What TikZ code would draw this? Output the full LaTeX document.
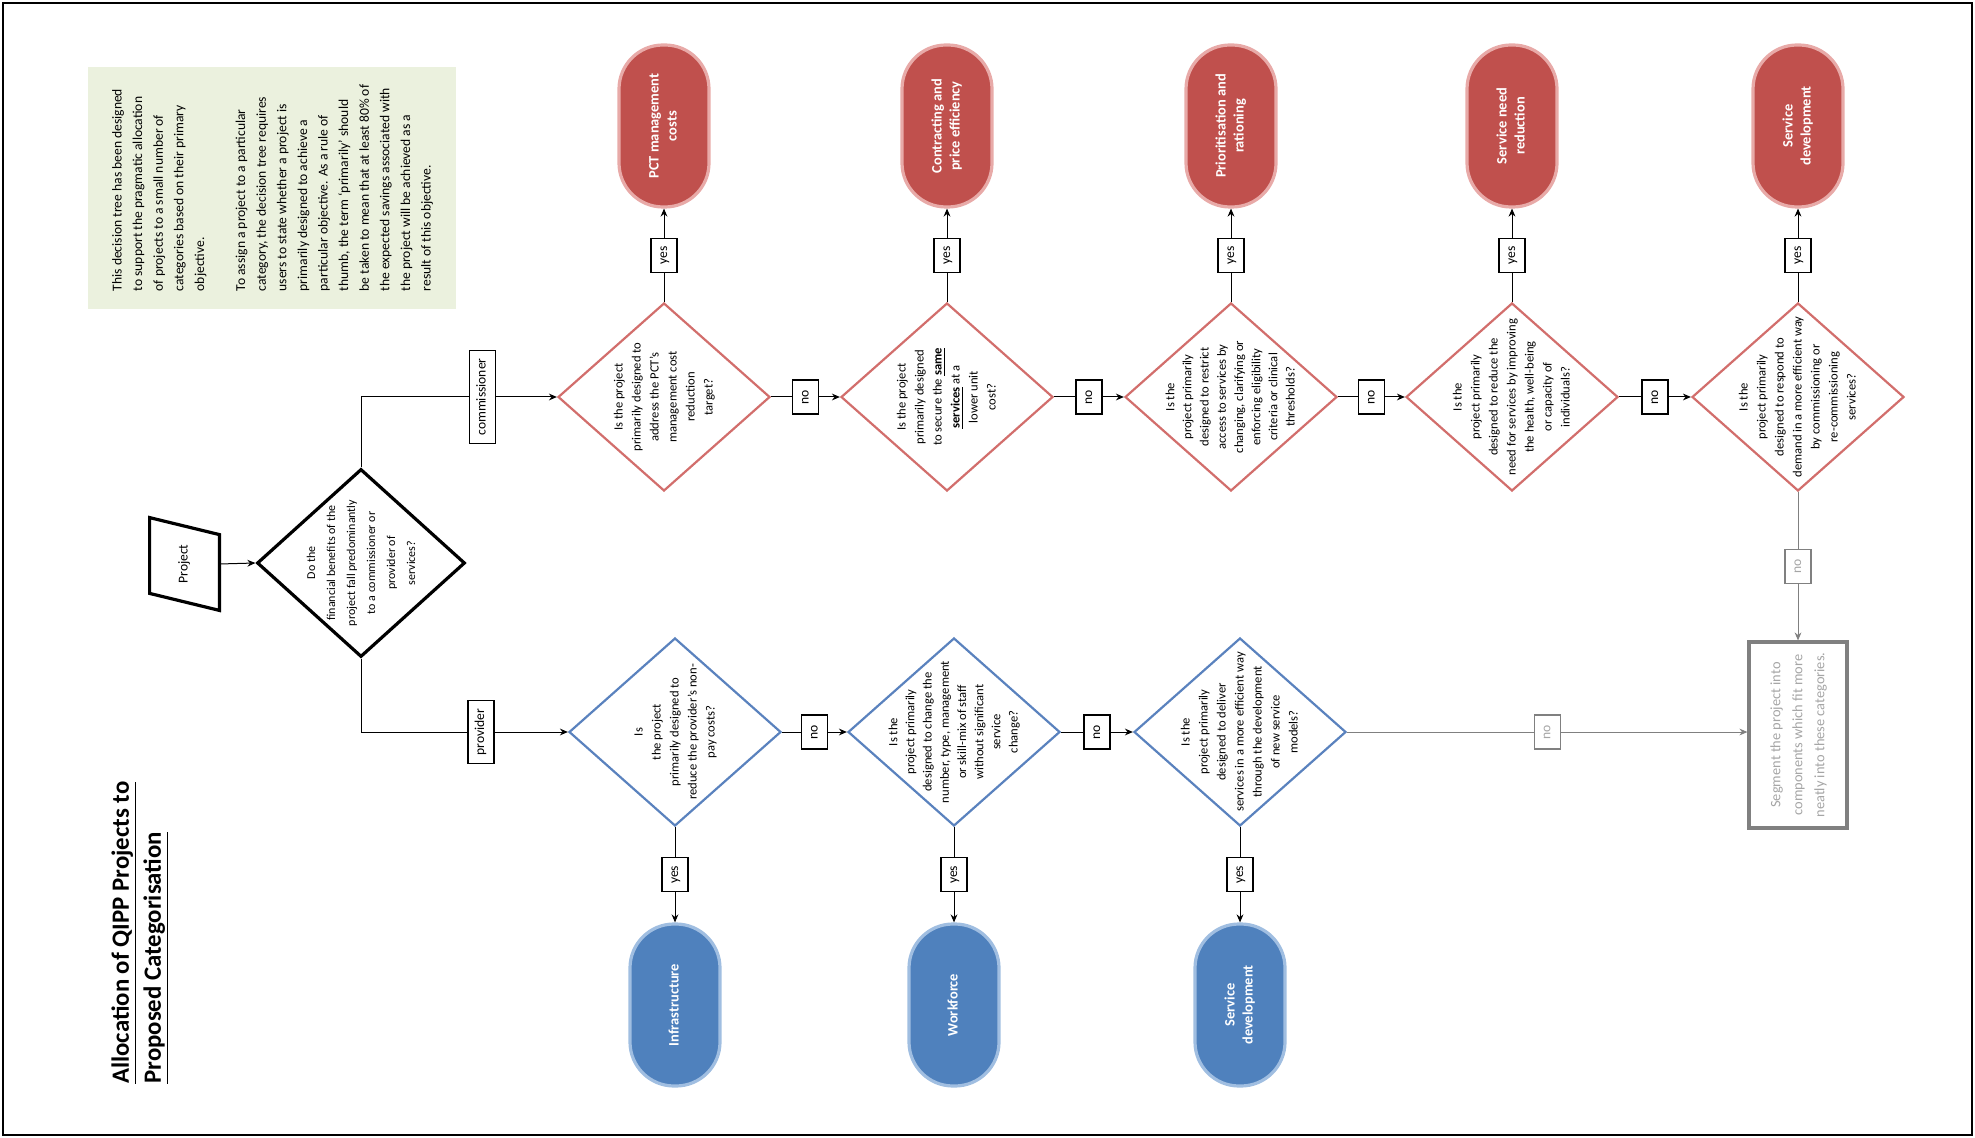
\documentclass[tikz,border=0pt]{standalone}
\usepackage{fontspec}
\setmainfont{Carlito}
\usepackage{graphicx}
\usetikzlibrary{shapes.geometric,arrows.meta,calc}

\definecolor{noteGreen}{RGB}{235,241,222}
\definecolor{termRed}{RGB}{192,80,77}
\definecolor{termRedEdge}{RGB}{232,170,168}
\definecolor{qRed}{RGB}{210,110,108}
\definecolor{termBlue}{RGB}{79,129,189}
\definecolor{termBlueEdge}{RGB}{160,190,225}
\definecolor{qBlue}{RGB}{90,130,190}
\definecolor{fadeGrey}{RGB}{128,128,128}
\definecolor{fadeText}{RGB}{165,165,165}

% vertical (bottom-to-top) text blocks
\newcommand{\vt}[1]{\rotatebox{90}{\begin{tabular}{@{}c@{}}#1\end{tabular}}}
\newcommand{\vl}[1]{\rotatebox{90}{\begin{tabular}{@{}l@{}}#1\end{tabular}}}

\tikzset{
  question/.style={diamond, draw, line width=1.1pt, minimum width=106pt,
    minimum height=94pt, inner sep=0pt, fill=white},
  redq/.style={question, draw=qRed},
  blueq/.style={question, draw=qBlue},
  qtext/.style={inner sep=0pt, font=\fontsize{6.3}{9}\selectfont},
  terminal/.style={rectangle, rounded corners=22pt, minimum width=45pt,
    minimum height=81pt, line width=1.6pt, text=white,
    font=\bfseries\fontsize{7.2}{9}\selectfont, inner sep=0pt},
  redt/.style={terminal, fill=termRed, draw=termRedEdge},
  bluet/.style={terminal, fill=termBlue, draw=termBlueEdge},
  conn/.style={line width=0.5pt, -{Stealth[length=4pt,width=3.4pt]}},
  tag/.style={draw, line width=0.6pt, fill=white, inner xsep=2pt,
    inner ysep=4pt, font=\fontsize{6.8}{8}\selectfont,
    minimum width=13pt, minimum height=17pt},
  fadetag/.style={tag, draw=fadeGrey, text=fadeText},
  fadeconn/.style={conn, draw=fadeGrey, fill=fadeGrey},
}

\begin{document}
\begin{tikzpicture}[x=0.5pt,y=-0.5pt]
\useasboundingbox (0,0) rectangle (1975,1138);
\draw[line width=1.2pt] (3,3) rectangle (1972,1135);

% explanatory note
\node[fill=noteGreen, minimum width=184pt, minimum height=121pt, inner sep=0pt,
  font=\fontsize{6.8}{10.3}\selectfont] (note) at (272,188)
  {\vl{This decision tree has been designed\\
  to support the pragmatic allocation\\
  of projects to a small number of\\
  categories based on their primary\\
  objective.\\
  \\
  To assign a project to a particular\\
  category, the decision tree requires\\
  users to state whether a project is\\
  primarily designed to achieve a\\
  particular objective.  As a rule of\\
  thumb, the term `primarily' should\\
  be taken to mean that at least 80\% of\\
  the expected savings associated with\\
  the project will be achieved as a\\
  result of this objective.}};

% title
\node[anchor=south west, inner sep=0pt, font=\bfseries\fontsize{12.4}{16}\selectfont]
  (title) at (106,1084)
  {\vl{\underline{Allocation of QIPP Projects to}\\
  \underline{Proposed Categorisation}}};

% start: project input
\node[minimum width=34.5pt, minimum height=37.5pt, inner sep=0pt,
  font=\fontsize{6.8}{8}\selectfont] (project) at (184.5,564) {\vt{Project}};
\draw[line width=1.6pt, line join=miter]
  ($(project.north west)+(0,-8.5)$) -- ($(project.north east)+(0,8.5)$)
  -- ($(project.south east)+(0,8.5)$) -- ($(project.south west)+(0,-8.5)$) -- cycle;

% first decision
\node[question, draw=black, line width=1.6pt, minimum width=104pt, minimum height=94pt]
  (q0) at (361,563) {};
\node[qtext, font=\fontsize{6}{10}\selectfont] (q0txt) at (q0)
  {\vt{Do the\\financial benefits of the\\project fall predominantly\\to a commissioner or\\provider of\\services?}};

% commissioner row
\node[redq] (r1) at (664,397) {};
\node[redq] (r2) at (947,397) {};
\node[redq] (r3) at (1231,397) {};
\node[redq] (r4) at (1512,397) {};
\node[redq] (r5) at (1798,397) {};

\node[qtext] (r1txt) at (r1) {\vt{Is the project\\primarily designed to\\address the PCT's\\management cost\\reduction\\target?}};
\node[qtext] (r2txt) at (r2) {\vt{Is the project\\primarily designed\\to secure the \underline{\textbf{same}}\\\underline{\textbf{services}} at a\\lower unit\\cost?}};
\node[qtext, font=\fontsize{6.3}{8.6}\selectfont] (r3txt) at (r3) {\vt{Is the\\project primarily\\designed to restrict\\access to services by\\changing, clarifying or\\enforcing eligibility\\criteria or clinical\\thresholds?}};
\node[qtext] (r4txt) at (r4) {\vt{Is the\\project primarily\\designed to reduce the\\need for services by improving\\the health, well-being\\or capacity of\\individuals?}};
\node[qtext] (r5txt) at (r5) {\vt{Is the\\project primarily\\designed to respond to\\demand in a more efficient way\\by commissioning or\\re-commissioning\\services?}};

\node[redt] (t1) at (664,126) {\vt{PCT management\\costs}};
\node[redt] (t2) at (947,126) {\vt{Contracting and\\price efficiency}};
\node[redt] (t3) at (1231,126) {\vt{Prioritisation and\\rationing}};
\node[redt] (t4) at (1512,126) {\vt{Service need\\reduction}};
\node[redt] (t5) at (1798,126) {\vt{Service\\development}};

% provider row
\node[blueq] (b1) at (675,732) {};
\node[blueq] (b2) at (954,732) {};
\node[blueq] (b3) at (1240,732) {};

\node[qtext] (b1txt) at (b1) {\vt{Is\\the project\\primarily designed to\\reduce the provider's non-\\pay costs?}};
\node[qtext, font=\fontsize{6.3}{8.6}\selectfont] (b2txt) at (b2) {\vt{Is the\\project primarily\\designed to change the\\number, type, management\\or skill-mix of staff\\without significant\\service\\change?}};
\node[qtext] (b3txt) at (b3) {\vt{Is the\\project primarily\\designed to deliver\\services in a more efficient way\\through the development\\of new service\\models?}};

\node[bluet] (u1) at (675,1005) {\vt{Infrastructure}};
\node[bluet] (u2) at (954,1005) {\vt{Workforce}};
\node[bluet] (u3) at (1240,1005) {\vt{Service\\development}};

% fallback
\node[draw=fadeGrey, line width=1.6pt, minimum width=49pt, minimum height=93pt,
  inner sep=0pt, text=fadeText, font=\fontsize{7.2}{11}\selectfont]
  (seg) at (1798,735)
  {\vt{Segment the project into\\components which fit more\\neatly into these categories.}};

% connectors
\draw[conn] (project.east) -- (q0.west);
\draw[conn] (q0.north) |- node[tag, pos=0.81] (tagc) {\vt{commissioner}} (r1.west);
\draw[conn] (q0.south) |- node[tag, pos=0.79] (tagp) {\vt{provider}} (b1.west);

\draw[conn] (r1.east) -- node[tag] (n1) {\vt{no}} (r2.west);
\draw[conn] (r2.east) -- node[tag] (n2) {\vt{no}} (r3.west);
\draw[conn] (r3.east) -- node[tag] (n3) {\vt{no}} (r4.west);
\draw[conn] (r4.east) -- node[tag] (n4) {\vt{no}} (r5.west);

\draw[conn] (r1.north) -- node[tag] (y1) {\vt{yes}} (t1.south);
\draw[conn] (r2.north) -- node[tag] (y2) {\vt{yes}} (t2.south);
\draw[conn] (r3.north) -- node[tag] (y3) {\vt{yes}} (t3.south);
\draw[conn] (r4.north) -- node[tag] (y4) {\vt{yes}} (t4.south);
\draw[conn] (r5.north) -- node[tag] (y5) {\vt{yes}} (t5.south);

\draw[conn] (b1.east) -- node[tag] (n6) {\vt{no}} (b2.west);
\draw[conn] (b2.east) -- node[tag] (n7) {\vt{no}} (b3.west);

\draw[conn] (b1.south) -- node[tag] (y6) {\vt{yes}} (u1.north);
\draw[conn] (b2.south) -- node[tag] (y7) {\vt{yes}} (u2.north);
\draw[conn] (b3.south) -- node[tag] (y8) {\vt{yes}} (u3.north);

\draw[fadeconn] (r5.south) -- node[fadetag] (n5) {\vt{no}} (seg.north);
\draw[fadeconn] (b3.east) -- node[fadetag] (n8) {\vt{no}} (b3.east -| seg.west);
\end{tikzpicture}
\end{document}
